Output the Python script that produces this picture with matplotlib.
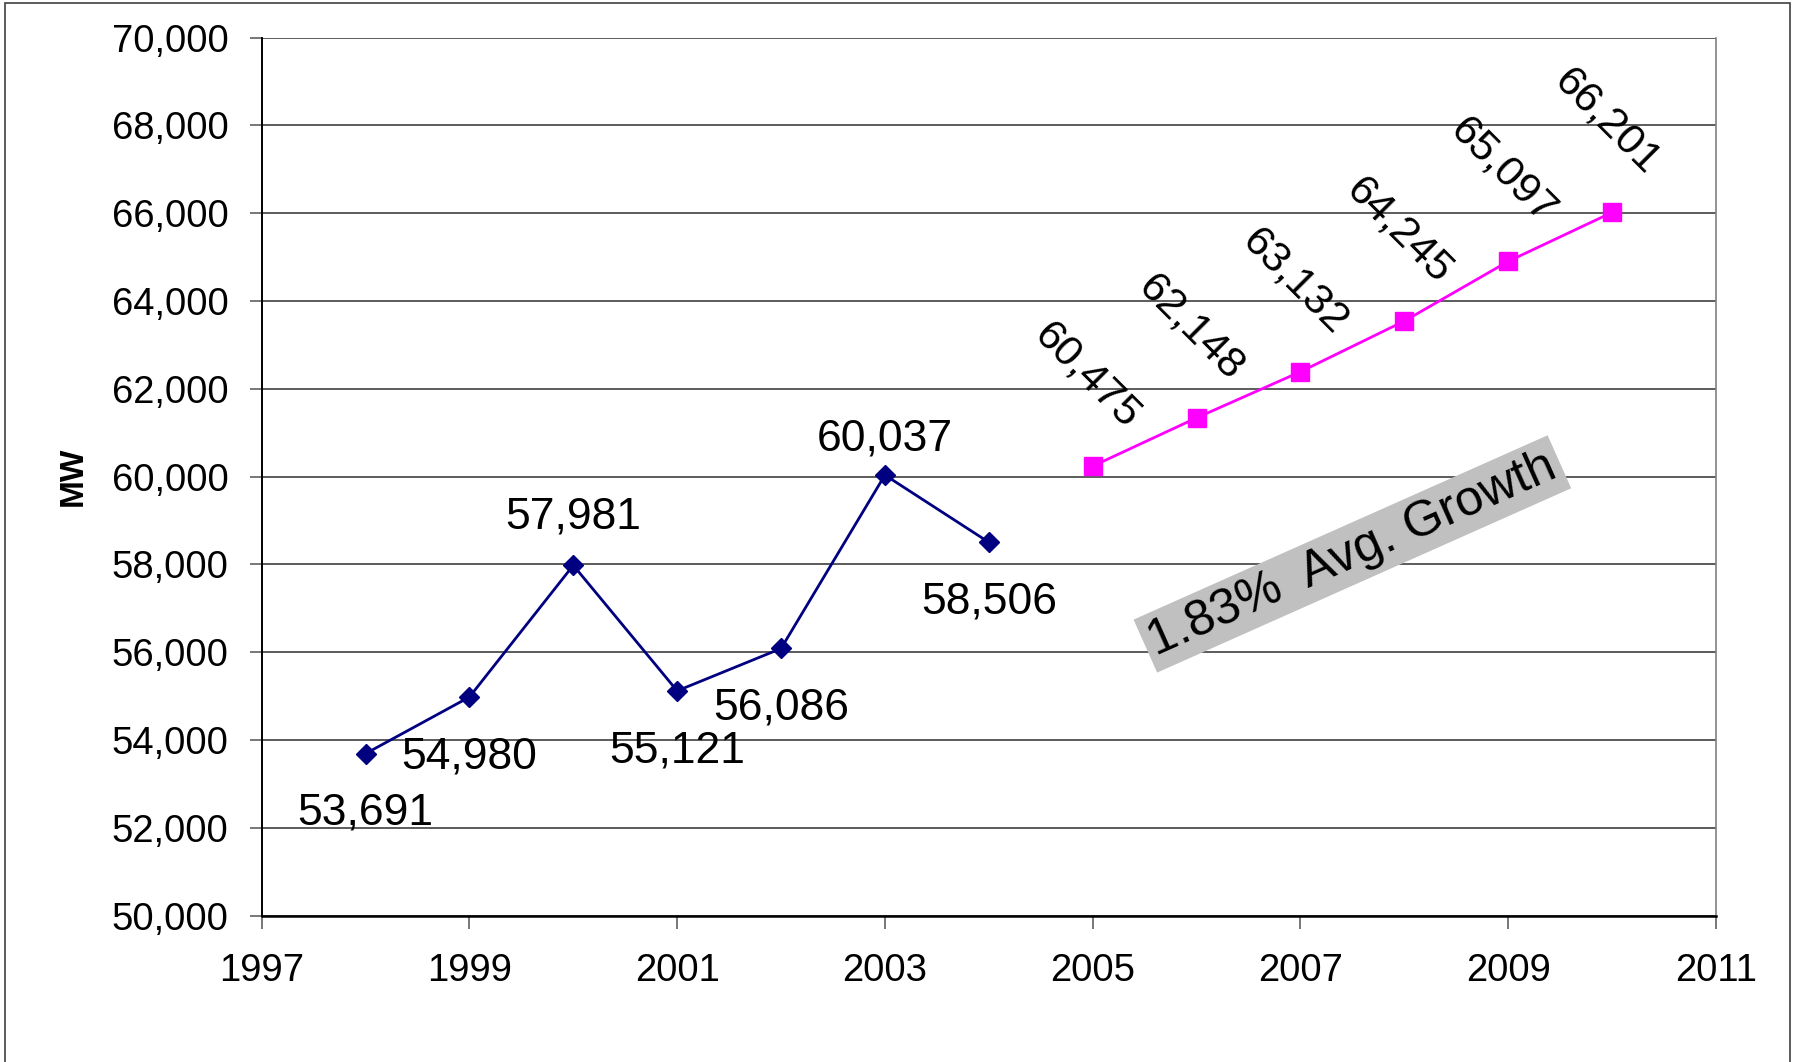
import matplotlib.pyplot as plt
from matplotlib.patches import Rectangle
from matplotlib.ticker import FuncFormatter

# actual peak load
hist_years = [1998, 1999, 2000, 2001, 2002, 2003, 2004]
hist_mw = [53691, 54980, 57981, 55121, 56086, 60037, 58506]

# forecast: marker heights as drawn, and the labels printed next to them
fcst_years = [2005, 2006, 2007, 2008, 2009, 2010]
fcst_mw = [60240, 61340, 62390, 63545, 64905, 66020]
fcst_labels = ["60,475", "62,148", "63,132", "64,245", "65,097", "66,201"]

growth_text = "1.83%  Avg. Growth"

# label offsets in points (layout, not data)
hist_offsets = [-43, -43, 35, -43, -43, 26, -43]

plt.rcParams["font.family"] = ["Liberation Sans", "DejaVu Sans"]

fig = plt.figure(figsize=(17.97, 10.62), dpi=100)
ax = fig.add_axes([0.1456, 0.1378, 0.9549 - 0.1456, 0.9645 - 0.1378])

# outer chart frame (no bottom edge visible)
fig.patches.append(Rectangle((0.0028, -0.02), 0.9961 - 0.0028, 0.9972 + 0.02,
                             transform=fig.transFigure, fill=False,
                             edgecolor="#404040", linewidth=1.2))

ax.plot(hist_years, hist_mw, color="#000080", linewidth=2.0,
        marker="D", markersize=10.5, zorder=3)
ax.plot(fcst_years, fcst_mw, color="#FF00FF", linewidth=2.0,
        marker="s", markersize=12.5, zorder=3)

for x, y, off in zip(hist_years, hist_mw, hist_offsets):
    ax.annotate(f"{y:,}", (x, y), xytext=(0, off), textcoords="offset points",
                ha="center", va="center", fontsize=32, color="black")

for x, y, lab in zip(fcst_years, fcst_mw, fcst_labels):
    ax.annotate(lab, (x, y), xytext=(-4, 65), textcoords="offset points",
                ha="center", va="center", fontsize=31, rotation=-45,
                rotation_mode="anchor", color="black")

ax.text(2007.5, 58240, growth_text, fontsize=36, rotation=24,
        rotation_mode="anchor", ha="center", va="center",
        bbox=dict(boxstyle="square,pad=0.12", facecolor="#C0C0C0",
                  edgecolor="none"), zorder=4)

ax.set_xlim(1997, 2011)
ax.set_ylim(50000, 70000)
ax.set_xticks(range(1997, 2012, 2))
ax.set_yticks(range(50000, 70001, 2000))
ax.yaxis.set_major_formatter(FuncFormatter(lambda v, p: f"{int(v):,}"))
ax.tick_params(axis="both", labelsize=27.5, length=9, width=1.2,
               color="#606060")
ax.tick_params(axis="y", pad=15)
ax.tick_params(axis="x", pad=18)

ax.grid(axis="y", color="#404040", linewidth=1.2)
ax.set_axisbelow(True)
ax.spines["top"].set_visible(False)
ax.spines["right"].set_color("#808080")
ax.spines["right"].set_linewidth(1.2)
ax.spines["left"].set_color("black")
ax.spines["bottom"].set_color("black")
ax.spines["left"].set_linewidth(1.4)
ax.spines["bottom"].set_linewidth(1.8)

ax.set_ylabel("MW", fontsize=24, fontweight="bold")
ax.yaxis.set_label_coords(-0.119, 0.5)

fig.savefig("out.png", dpi=100)
